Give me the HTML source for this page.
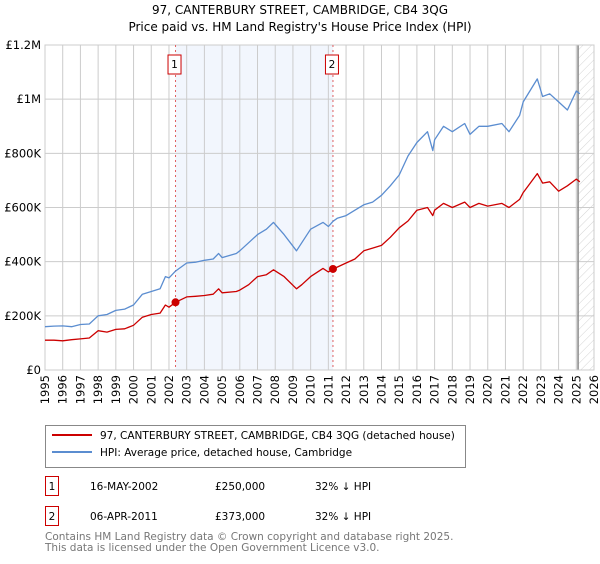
<!DOCTYPE html>
<html><head><meta charset="utf-8"><style>
body{margin:0;background:#fff;font-family:"DejaVu Sans","Liberation Sans",sans-serif;}
svg text{font-family:"DejaVu Sans","Liberation Sans",sans-serif;}
</style></head><body>
<svg id="c" width="600" height="560" viewBox="0 0 600 560" xmlns="http://www.w3.org/2000/svg">
<text x="300" y="14" text-anchor="middle" font-size="12" fill="#000">97, CANTERBURY STREET, CAMBRIDGE, CB4 3QG</text>
<text x="300" y="31" text-anchor="middle" font-size="12" fill="#000">Price paid vs. HM Land Registry's House Price Index (HPI)</text>
<defs><pattern id="h" width="6" height="6" patternUnits="userSpaceOnUse" patternTransform="rotate(45)"><line x1="0" y1="0" x2="0" y2="6" stroke="#d4d4d4" stroke-width="1"/></pattern></defs>
<g id="plot"></g>
<g>
<rect x="45.5" y="425.5" width="420" height="42" fill="#fff" stroke="#888"/>
<line x1="52" y1="435" x2="92" y2="435" stroke="#cc0000" stroke-width="2"/>
<text x="100" y="439" font-size="10.5">97, CANTERBURY STREET, CAMBRIDGE, CB4 3QG (detached house)</text>
<line x1="52" y1="452" x2="92" y2="452" stroke="#5b8dd0" stroke-width="2"/>
<text x="100" y="456" font-size="10.5">HPI: Average price, detached house, Cambridge</text>
</g>
<g font-size="10.5">
<rect x="45.5" y="476.5" width="13" height="19" fill="#fff" stroke="#cc0000"/>
<text x="52" y="490" text-anchor="middle">1</text>
<text x="90" y="490">16-MAY-2002</text><text x="215" y="490">£250,000</text><text x="315" y="490">32% ↓ HPI</text>
<rect x="45.5" y="506.5" width="13" height="19" fill="#fff" stroke="#cc0000"/>
<text x="52" y="520" text-anchor="middle">2</text>
<text x="90" y="520">06-APR-2011</text><text x="215" y="520">£373,000</text><text x="315" y="520">32% ↓ HPI</text>
</g>
<text x="45" y="540" font-size="10.5" fill="#777">Contains HM Land Registry data © Crown copyright and database right 2025.</text>
<text x="45" y="551" font-size="10.5" fill="#777">This data is licensed under the Open Government Licence v3.0.</text>
</svg>
<script>
const hpiYears=[1995,1995.5,1996,1996.5,1997,1997.5,1998,1998.5,1999,1999.5,2000,2000.5,2001,2001.5,2001.8,2002,2002.37,2003,2003.5,2004,2004.5,2004.8,2005,2005.8,2006,2006.5,2007,2007.5,2007.9,2008.5,2009.2,2009.5,2010,2010.7,2011,2011.26,2011.5,2012,2012.5,2013,2013.5,2014,2014.5,2015,2015.5,2016,2016.6,2016.9,2017,2017.5,2018,2018.7,2019,2019.5,2020,2020.8,2021.2,2021.8,2022,2022.8,2023.1,2023.5,2024,2024.5,2025,2025.2];
const hpiValues=[160,162,163,160,168,170,200,205,220,225,240,280,290,300,345,340,365,395,398,405,410,430,415,430,440,470,500,520,545,500,440,470,520,545,530,549,560,570,590,610,620,645,680,720,790,840,880,810,850,900,880,910,870,900,900,910,880,940,990,1075,1010,1020,990,960,1030,1020];
const priceYears=[1995,1995.5,1996,1996.5,1997,1997.5,1998,1998.5,1999,1999.5,2000,2000.5,2001,2001.5,2001.8,2002,2002.37,2003,2003.5,2004,2004.5,2004.8,2005,2005.8,2006,2006.5,2007,2007.5,2007.9,2008.5,2009.2,2009.5,2010,2010.7,2011,2011.26,2011.5,2012,2012.5,2013,2013.5,2014,2014.5,2015,2015.5,2016,2016.6,2016.9,2017,2017.5,2018,2018.7,2019,2019.5,2020,2020.8,2021.2,2021.8,2022,2022.8,2023.1,2023.5,2024,2024.5,2025,2025.2];
const priceValues=[110,110,108,112,115,118,145,140,150,152,165,195,205,210,240,232,250,270,272,275,280,300,285,290,295,315,345,352,370,345,300,315,345,375,362,373,380,395,410,440,450,460,490,525,550,590,600,570,590,615,600,620,600,615,605,615,600,630,655,725,690,695,660,680,705,695];
const sales=[{x:2002.37,v:250,label:"1"},{x:2011.26,v:373,label:"2"}];
const yTicks=[0,200,400,600,800,1000,1200];
const yTickLabels=["£0","£200K","£400K","£600K","£800K","£1M","£1.2M"];
const xTicks=[1995,1996,1997,1998,1999,2000,2001,2002,2003,2004,2005,2006,2007,2008,2009,2010,2011,2012,2013,2014,2015,2016,2017,2018,2019,2020,2021,2022,2023,2024,2025,2026];
const L=45,R=594,T=45,B=370,x0=1995,x1=2026,yMax=1200,forecast=2025.1;
const X=v=>L+(v-x0)/(x1-x0)*(R-L);
const Y=v=>B-v/yMax*(B-T);
const NS="http://www.w3.org/2000/svg";
const g=document.getElementById('plot');
function mk(t,a){const e=document.createElementNS(NS,t);for(const k in a)e.setAttribute(k,a[k]);g.appendChild(e);return e;}
let e=mk('rect',{x:X(sales[0].x),y:T,width:X(sales[1].x)-X(sales[0].x),height:B-T,fill:'#f2f6fd'});


e=mk('rect',{x:X(forecast),y:T,width:R-X(forecast),height:B-T,fill:'url(#h)'});


yTicks.forEach((v,i)=>{
 let l=mk('line',{x1:L,x2:R,y1:Y(v),y2:Y(v),stroke:'#ccc','stroke-width':1});
 
 
 let t=mk('text',{x:L-4,y:Y(v)+4,'text-anchor':'end','font-size':11.5});
 t.textContent=yTickLabels[i];
 
 
});
xTicks.forEach(v=>{
 let l=mk('line',{x1:X(v),x2:X(v),y1:T,y2:B,stroke:'#ccc','stroke-width':1});
 
 
 let t=mk('text',{x:0,y:0,'text-anchor':'end','font-size':11.5,transform:`translate(${X(v)+4},${B+5}) rotate(-90)`});
 t.textContent=v;
 
 
});
e=mk('line',{x1:X(forecast),x2:X(forecast),y1:T,y2:B,stroke:'#888','stroke-width':1.5});


e=mk('rect',{x:L,y:T,width:R-L,height:B-T,fill:'none',stroke:'#ccc'});


sales.forEach(s=>{
 let l=mk('line',{x1:X(s.x),x2:X(s.x),y1:T,y2:B,stroke:'#e06060','stroke-width':1,'stroke-dasharray':'2,3'});
 
 
 let r=mk('rect',{x:X(s.x)-7.5,y:55,width:13,height:19,fill:'#fff',stroke:'#cc0000'});
 
 
 let t=mk('text',{x:X(s.x)-1,y:68,'text-anchor':'middle','font-size':10.5});
 t.textContent=s.label;
 
 
});
function path(xs,vs,c,n){
 const d=xs.map((x,i)=>(i?'L':'M')+X(x).toFixed(1)+','+Y(vs[i]).toFixed(1)).join('');
 const p=mk('path',{d:d,fill:'none',stroke:c,'stroke-width':1.3,'stroke-linejoin':'round'});
 
 
}
path(hpiYears,hpiValues,'#5b8dd0','hpi-line');
path(priceYears,priceValues,'#cc0000','price-paid-line');
sales.forEach(s=>{
 const c=mk('circle',{cx:X(s.x),cy:Y(s.v),r:4,fill:'#cc0000'});
 
 
});
</script>
</body></html>
